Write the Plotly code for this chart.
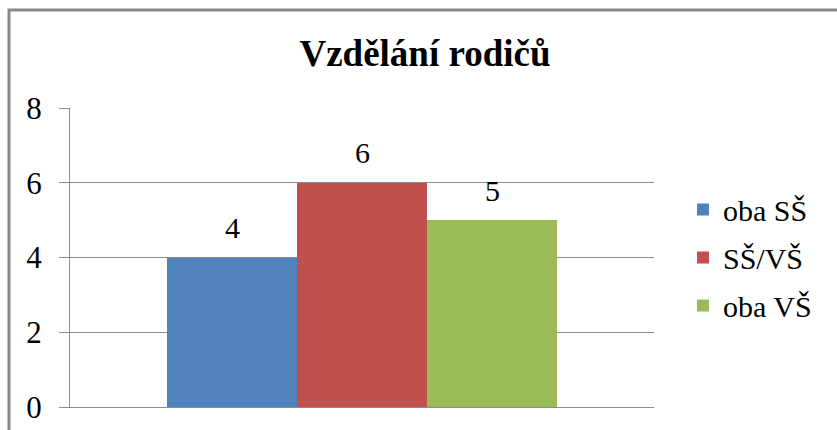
import plotly.graph_objects as go

title_text = "Vzdělání rodičů"
series_names = ["oba SŠ", "SŠ/VŠ", "oba VŠ"]
series_values = [4, 6, 5]
series_colors = ["#4F81BD", "#C0504D", "#9BBB59"]
y_ticks = [0, 2, 4, 6, 8]

W, H = 837, 430
L, R, T, B = 70, 183, 108, 23
pw = W - L - R
ph = H - T - B

serif = "Liberation Serif"

fig = go.Figure()
for name, val, col in zip(series_names, series_values, series_colors):
    fig.add_trace(go.Bar(
        x=[name], y=[val], name=name, marker=dict(color=col, line=dict(width=0)),
        legendgroup=name, hoverinfo="skip",
    ))
    fig.add_annotation(
        x=name, y=val, text=str(val), showarrow=False, yanchor="middle",
        yshift=30, font=dict(family=serif, size=30, color="black"),
    )

half = pw / 130 / 2
fig.update_layout(
    width=W, height=H,
    margin=dict(l=L, r=R, t=T, b=B, autoexpand=False),
    paper_bgcolor="white", plot_bgcolor="white",
    font=dict(family=serif, color="black"),
    barmode="overlay", bargap=0,
    title=dict(text="<b>" + title_text + "</b>", x=425 / W, xanchor="center",
               y=1 - 53 / H, yanchor="middle", yref="container",
               font=dict(family=serif, size=37, color="black")),
    xaxis=dict(range=[1 - half, 1 + half], showticklabels=False, ticks="",
               showgrid=False, zeroline=False, showline=True,
               linecolor="#8c8c8c", linewidth=1),
    yaxis=dict(range=[0, 8], tickvals=y_ticks, showgrid=True, gridcolor="#8c8c8c",
               gridwidth=1, zeroline=False, showline=True, linecolor="#8c8c8c",
               linewidth=1, ticks="outside", ticklen=10, tickcolor="#8c8c8c",
               tickwidth=1, ticklabelstandoff=11,
               tickfont=dict(family=serif, size=31, color="black")),
    legend=dict(x=(683 - L) / pw, xanchor="left", y=0.5, yanchor="middle",
                font=dict(family=serif, size=30, color="black"),
                tracegroupgap=6, bgcolor="rgba(0,0,0,0)", traceorder="grouped"),
    shapes=[dict(type="rect", xref="paper", yref="paper",
                 x0=(9 - L) / pw, x1=(900 - L) / pw,
                 y0=(T + ph - 460) / ph, y1=(T + ph - 10) / ph,
                 line=dict(color="#888888", width=3), layer="below")],
)

fig.write_html("out.html", config={"displayModeBar": False},
               post_script="document.body.style.margin='0';document.body.style.overflow='hidden';")
